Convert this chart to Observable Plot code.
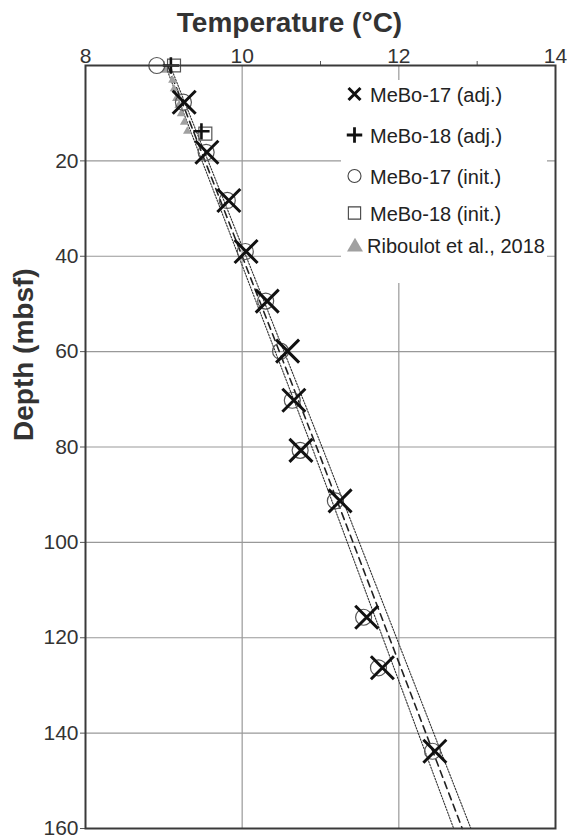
<!DOCTYPE html>
<html>
<head>
<meta charset="utf-8">
<script src="https://cdn.jsdelivr.net/npm/d3@7"></script>
<script src="https://cdn.jsdelivr.net/npm/@observablehq/plot@0.6"></script>
<style>
  html, body { margin: 0; padding: 0; background: #fff; }
  #wrap { position: relative; width: 567px; height: 840px; font-family: "Liberation Sans", Arial, Helvetica, sans-serif; }
  #title { position: absolute; left: 12px; width: 555px; top: 9px; line-height: 28px; font-size: 28px; font-weight: bold; color: #333; text-align: center; }
  #chart { position: absolute; left: 0; top: 36px; }
  #legend { position: absolute; left: 341px; top: 80px; width: 206px; height: 203px; background: #fff; }
  .item { position: absolute; left: 0; height: 30px; width: 206px; }
  .item svg { position: absolute; left: 0; top: 0; }
  .item span { position: absolute; top: 3px; line-height: 24px; font-size: 20px; color: #222; white-space: nowrap; }
</style>
</head>
<body>
<div id="wrap">
  <div id="title">Temperature (°C)</div>
  <div id="chart"></div>
  <div id="legend"></div>
</div>
<script>
// ---- data ----
const tempTicks = [8, 10, 12, 14];
const minorTempTicks = [9, 11, 13];
const depthTicks = [20, 40, 60, 80, 100, 120, 140, 160];
const gridTemps = [10, 12];
const gridDepths = [20, 40, 60, 80, 100, 120, 140];

// MeBo-17 adjusted (×)
const depth17Adj = [7.7, 18.2, 28.3, 39.0, 49.4, 59.9, 70.2, 80.7, 91.3, 115.7, 126.3, 143.8];
const temp17Adj  = [9.26, 9.55, 9.83, 10.05, 10.32, 10.58, 10.66, 10.75, 11.25, 11.59, 11.79, 12.46];
// MeBo-17 initial (○)
const depth17Init = [0, 7.7, 18.2, 28.3, 39.0, 49.4, 59.9, 70.2, 80.7, 91.3, 115.7, 126.3, 143.8];
const temp17Init  = [8.91, 9.25, 9.54, 9.81, 10.04, 10.30, 10.49, 10.64, 10.74, 11.19, 11.55, 11.74, 12.43];
// MeBo-18 adjusted (+) and initial (□)
const depth18Adj  = [0, 13.8];
const temp18Adj   = [9.09, 9.48];
const depth18Init = [0, 14.3];
const temp18Init  = [9.13, 9.53];
// Riboulot et al., 2018 (▲)
const depthRib = [1.0, 3.1, 4.9, 6.9, 8.4, 10.1, 11.9, 13.8];
const tempRib  = [9.02, 9.11, 9.13, 9.16, 9.19, 9.22, 9.26, 9.30];
// Fitted gradient (dashed) and its bounds (dotted)
const lineDepths = [0, 80, 160];
const lineCenter = [9.05, 10.95, 12.81];
const lineLower  = [9.02, 10.89, 12.70];
const lineUpper  = [9.08, 11.02, 12.92];

const legendLabels = ["MeBo-17 (adj.)", "MeBo-18 (adj.)", "MeBo-17 (init.)", "MeBo-18 (init.)", "Riboulot et al., 2018"];
const legendSymbols = ["times", "plus", "circle", "square", "triangle"];

// ---- build rows ----
const rows = (ds, ts) => ds.map((d, i) => ({depth: d, temp: ts[i]}));
const m17a = rows(depth17Adj, temp17Adj);
const m17i = rows(depth17Init, temp17Init);
const m18a = rows(depth18Adj, temp18Adj);
const m18i = rows(depth18Init, temp18Init);
const rib = rows(depthRib, tempRib);
const lc = rows(lineDepths, lineCenter);
const ll = rows(lineDepths, lineLower);
const lu = rows(lineDepths, lineUpper);

const plot = Plot.plot({
  width: 567,
  height: 804,
  marginLeft: 85,
  marginRight: 12,
  marginTop: 29,
  marginBottom: 12,
  style: {fontFamily: '"Liberation Sans", Arial, Helvetica, sans-serif', fontSize: "21px", color: "#333", background: "transparent", overflow: "visible"},
  x: {domain: [8, 14]},
  y: {domain: [0, 160], reverse: true},
  marks: [
    Plot.gridX(gridTemps, {stroke: "#999", strokeOpacity: 1, strokeWidth: 1.2}),
    Plot.gridY(gridDepths, {stroke: "#999", strokeOpacity: 1, strokeWidth: 1.2}),
    Plot.axisX({anchor: "top", ticks: tempTicks, tickFormat: d => String(d), tickSize: 0, tickPadding: 3, label: null, fontSize: 21}),
    Plot.axisX({anchor: "top", ticks: minorTempTicks, tickSize: 5, text: null, label: null, stroke: "#555"}),
    Plot.axisY({anchor: "left", ticks: depthTicks, tickFormat: d => String(d), tickSize: 5, tickPadding: 2, label: null, fontSize: 21, stroke: "#555"}),
    Plot.text(["Depth (mbsf)"], {frameAnchor: "left", dx: -61, dy: -6, rotate: -90, fontSize: 28, fontWeight: "bold", fill: "#333"}),
    Plot.line(ll, {x: "temp", y: "depth", stroke: "#333", strokeWidth: 1.1, strokeDasharray: "1.5,1.5"}),
    Plot.line(lu, {x: "temp", y: "depth", stroke: "#333", strokeWidth: 1.1, strokeDasharray: "1.5,1.5"}),
    Plot.line(lc, {x: "temp", y: "depth", stroke: "#222", strokeWidth: 1.6, strokeDasharray: "7,5"}),
    Plot.dot(rib, {x: "temp", y: "depth", symbol: "triangle", r: 3.2, fill: "#a0a0a0", stroke: "none"}),
    Plot.dot(m17i, {x: "temp", y: "depth", symbol: "circle", r: 8, stroke: "#555", strokeWidth: 1.2, fill: "none"}),
    Plot.dot(m18i, {x: "temp", y: "depth", symbol: "square", r: 7.3, stroke: "#555", strokeWidth: 1.2, fill: "none"}),
    Plot.dot(m17a, {x: "temp", y: "depth", symbol: "times", r: 10.5, stroke: "#111", strokeWidth: 3}),
    Plot.dot(m18a, {x: "temp", y: "depth", symbol: "plus", r: 5.3, stroke: "#111", strokeWidth: 2.6}),
    Plot.frame({stroke: "#3a3a3a", strokeWidth: 2})
  ]
});
document.getElementById("chart").appendChild(plot);

// ---- legend ----
const legend = d3.select("#legend");
const rowTops = [0, 41, 82, 119, 151];
const symStyle = {
  times:   {size: 95,  stroke: "#111", sw: 3,   fill: "none", sym: d3.symbolTimes},
  plus:    {size: 80,  stroke: "#111", sw: 2.8, fill: "none", sym: d3.symbolPlus},
  circle:  {size: 133, stroke: "#444", sw: 1.1, fill: "none", sym: d3.symbolCircle},
  square:  {size: 150, stroke: "#444", sw: 1.1, fill: "none", sym: d3.symbolSquare},
  triangle:{size: 110, stroke: "none", sw: 0,   fill: "#a0a0a0", sym: d3.symbolTriangle}
};
legendLabels.forEach((lab, i) => {
  const s = symStyle[legendSymbols[i]];
  const it = legend.append("div").attr("class", "item").style("top", rowTops[i] + "px");
  const svg = it.append("svg").attr("width", 30).attr("height", 30);
  svg.append("path")
    .attr("transform", `translate(${legendSymbols[i] === "triangle" ? 14 : 13.5},${legendSymbols[i] === "triangle" ? 16 : 14})`)
    .attr("d", d3.symbol(s.sym, s.size)())
    .attr("fill", s.fill).attr("stroke", s.stroke).attr("stroke-width", s.sw);
  it.append("span").style("left", (legendSymbols[i] === "triangle" ? 26 : 29) + "px").text(lab);
});
</script>
</body>
</html>
